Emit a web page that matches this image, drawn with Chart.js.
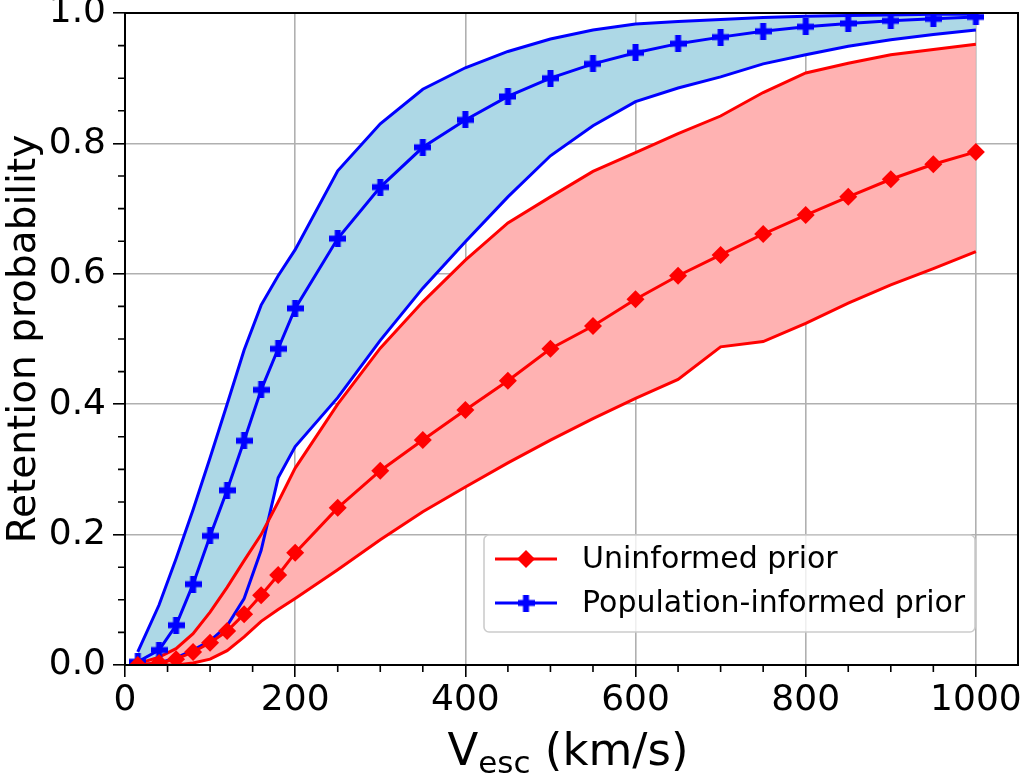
<!DOCTYPE html>
<html lang="en">
<head>
<meta charset="UTF-8">
<title>Retention probability</title>
<script src="https://cdn.jsdelivr.net/npm/chart.js"></script>
<style>
  html, body { margin: 0; padding: 0; background: #fff; }
</style>
</head>
<body>
<canvas id="retention" width="1020" height="773"></canvas>
<script>
// escape velocity grid (km/s)
const vEsc = [15, 40, 60, 80, 100, 120, 140, 160, 180, 200, 250, 300, 350, 400,
              450, 500, 550, 600, 650, 700, 750, 800, 850, 900, 950, 1000];

// uninformed prior: median and band
const uninfMedian = [0.000, 0.003, 0.009, 0.020, 0.034, 0.052, 0.078, 0.107, 0.138, 0.172, 0.241, 0.298, 0.345,
                     0.391, 0.436, 0.485, 0.520, 0.561, 0.597, 0.629, 0.661, 0.690, 0.718, 0.745, 0.768, 0.787];
const uninfUpper  = [0.002, 0.012, 0.025, 0.048, 0.081, 0.119, 0.160, 0.200, 0.250, 0.302, 0.400, 0.486, 0.557,
                     0.621, 0.678, 0.718, 0.757, 0.786, 0.815, 0.842, 0.878, 0.908, 0.923, 0.936, 0.944, 0.952];
const uninfLower  = [0.000, 0.000, 0.000, 0.003, 0.009, 0.022, 0.043, 0.067, 0.085, 0.102, 0.146, 0.192, 0.235,
                     0.273, 0.310, 0.345, 0.378, 0.409, 0.438, 0.488, 0.496, 0.524, 0.555, 0.583, 0.608, 0.634];

// population-informed prior: median and band
const popMedian = [0.005, 0.023, 0.061, 0.124, 0.198, 0.268, 0.344, 0.422, 0.485, 0.547, 0.654, 0.733, 0.794,
                   0.836, 0.872, 0.900, 0.922, 0.939, 0.953, 0.963, 0.972, 0.979, 0.984, 0.988, 0.991, 0.994];
const popUpper  = [0.020, 0.092, 0.163, 0.238, 0.318, 0.400, 0.483, 0.552, 0.597, 0.637, 0.758, 0.830, 0.883,
                   0.916, 0.941, 0.960, 0.974, 0.983, 0.987, 0.990, 0.993, 0.995, 0.996, 0.997, 0.998, 0.998];
const popLower  = [0.000, 0.003, 0.011, 0.023, 0.037, 0.060, 0.102, 0.176, 0.287, 0.335, 0.410, 0.498, 0.578,
                   0.649, 0.718, 0.781, 0.827, 0.864, 0.885, 0.902, 0.922, 0.936, 0.949, 0.959, 0.967, 0.974];

const xTicks = [0, 200, 400, 600, 800, 1000];
const yTicks = [0, 0.2, 0.4, 0.6, 0.8, 1.0];
const xMinor = [50, 100, 150, 250, 300, 350, 450, 500, 550, 650, 700, 750, 850, 900, 950];
const yMinor = [0.05, 0.1, 0.15, 0.25, 0.3, 0.35, 0.45, 0.5, 0.55, 0.65, 0.7, 0.75, 0.85, 0.9, 0.95];

const legendLabels = ['Uninformed prior', 'Population-informed prior'];

const FONT = '"DejaVu Sans", sans-serif';
const RED = '#ff0000', BLUE = '#0000ff';
const RED_FILL = '#ffb2b2', BLUE_FILL = '#add8e6';

const pts = ys => vEsc.map((v, i) => ({ x: v, y: ys[i] }));

// filled plus marker like matplotlib's 'P'
function plusMarker(size, color) {
    const c = document.createElement('canvas');
    c.width = size; c.height = size;
    const g = c.getContext('2d');
    const t = Math.round(size / 3);
    g.fillStyle = color;
    g.fillRect(0, (size - t) / 2, size, t);
    g.fillRect((size - t) / 2, 0, t, size);
    return c;
}
const plus = plusMarker(17, BLUE);

const bandLine = (data, color, extra) => Object.assign({
    data: pts(data), borderColor: color, borderWidth: 3, pointRadius: 0,
    fill: false, tension: 0
}, extra || {});

// kill the automatic room Chart.js leaves for overhanging tick labels
const noPad = s => { s.paddingTop = 0; s.paddingBottom = 0; s.paddingLeft = 0; s.paddingRight = 0; };

// frame, minor ticks, axis titles and legend
const decorations = {
    id: 'decorations',
    afterDraw(chart) {
        const ctx = chart.ctx, a = chart.chartArea;
        const xs = chart.scales.x, ys = chart.scales.y;
        ctx.save();
        ctx.strokeStyle = '#000';
        ctx.lineWidth = 1.6;
        ctx.beginPath();
        xMinor.forEach(v => {
            const px = xs.getPixelForValue(v);
            ctx.moveTo(px, a.bottom); ctx.lineTo(px, a.bottom + 7);
        });
        yMinor.forEach(v => {
            const py = ys.getPixelForValue(v);
            ctx.moveTo(a.left, py); ctx.lineTo(a.left - 7, py);
        });
        ctx.stroke();
        ctx.lineWidth = 2;
        ctx.strokeRect(a.left, a.top, a.right - a.left, a.bottom - a.top);

        // x title with subscript
        ctx.fillStyle = '#000';
        ctx.textBaseline = 'alphabetic';
        ctx.textAlign = 'left';
        const big = '45px ' + FONT, small = '31px ' + FONT;
        ctx.font = big;
        const wV = ctx.measureText('V').width;
        const wRest = ctx.measureText(' (km/s)').width;
        ctx.font = small;
        const wSub = ctx.measureText('esc').width;
        const x0 = 568 - (wV + wSub + wRest) / 2;
        const base = 765;
        ctx.font = big; ctx.fillText('V', x0, base);
        ctx.font = small; ctx.fillText('esc', x0 + wV, base + 8);
        ctx.font = big; ctx.fillText(' (km/s)', x0 + wV + wSub, base);

        // y title
        ctx.save();
        ctx.translate(35, (a.top + a.bottom) / 2);
        ctx.rotate(-Math.PI / 2);
        ctx.textAlign = 'center';
        ctx.font = '39px ' + FONT;
        ctx.fillText('Retention probability', 0, 0);
        ctx.restore();

        // legend box
        const bx = 484, by = 535, bw = 491, bh = 97, r = 5;
        ctx.beginPath();
        ctx.roundRect(bx, by, bw, bh, r);
        ctx.fillStyle = 'rgba(255,255,255,0.8)';
        ctx.fill();
        ctx.strokeStyle = '#cccccc';
        ctx.lineWidth = 1.6;
        ctx.stroke();

        const rows = [559, 603];
        ctx.lineWidth = 3;
        // red entry
        ctx.strokeStyle = RED;
        ctx.beginPath(); ctx.moveTo(495, rows[0]); ctx.lineTo(557, rows[0]); ctx.stroke();
        ctx.fillStyle = RED;
        ctx.beginPath();
        ctx.moveTo(526, rows[0] - 9); ctx.lineTo(535, rows[0]);
        ctx.lineTo(526, rows[0] + 9); ctx.lineTo(517, rows[0]);
        ctx.closePath(); ctx.fill();
        // blue entry
        ctx.strokeStyle = BLUE;
        ctx.beginPath(); ctx.moveTo(495, rows[1]); ctx.lineTo(557, rows[1]); ctx.stroke();
        ctx.drawImage(plus, 526 - plus.width / 2, rows[1] - plus.height / 2);

        ctx.fillStyle = '#000';
        ctx.font = '30px ' + FONT;
        ctx.textBaseline = 'middle';
        ctx.textAlign = 'left';
        legendLabels.forEach((t, i) => ctx.fillText(t, 582, rows[i] + 1));
        ctx.restore();
    }
};

new Chart(document.getElementById('retention'), {
    type: 'line',
    data: {
        datasets: [
            { label: legendLabels[0], data: pts(uninfMedian), borderColor: RED, backgroundColor: RED,
              borderWidth: 3, pointStyle: 'rectRot', pointRadius: 9, pointBorderWidth: 0, fill: false },
            { label: legendLabels[1], data: pts(popMedian), borderColor: BLUE, backgroundColor: BLUE,
              borderWidth: 3, pointStyle: plus, pointRadius: 8, fill: false },
            bandLine(uninfUpper, RED, { fill: { target: 3 }, backgroundColor: RED_FILL }),
            bandLine(uninfLower, RED),
            bandLine(popUpper, BLUE, { fill: { target: 5 }, backgroundColor: BLUE_FILL }),
            bandLine(popLower, BLUE)
        ]
    },
    options: {
        responsive: false,
        animation: false,
        layout: { autoPadding: false, padding: { top: 13, right: 2, left: 0, bottom: 0 } },
        plugins: {
            legend: { display: false },
            tooltip: { enabled: false },
            filler: { drawTime: 'beforeDatasetsDraw' }
        },
        scales: {
            x: {
                type: 'linear', min: 0, max: 1049.5,
                afterBuildTicks: s => { s.ticks = xTicks.map(v => ({ value: v })); },
                afterFit: s => { s.height = 108; noPad(s); },
                ticks: { font: { family: FONT, size: 36 }, color: '#000', padding: 2,
                         maxRotation: 0, autoSkip: false, callback: v => String(v) },
                grid: { color: '#b0b0b0', lineWidth: 1.6, tickLength: 12, tickColor: '#000', tickWidth: 1.6 },
                border: { display: false }
            },
            y: {
                min: 0, max: 1,
                afterBuildTicks: s => { s.ticks = yTicks.map(v => ({ value: v })); },
                afterFit: s => { s.width = 125; noPad(s); },
                ticks: { font: { family: FONT, size: 36 }, color: '#000', padding: 7,
                         callback: v => v.toFixed(1) },
                grid: { color: '#b0b0b0', lineWidth: 1.6, tickLength: 12, tickColor: '#000', tickWidth: 1.6 },
                border: { display: false }
            }
        }
    },
    plugins: [decorations]
});
</script>
</body>
</html>
